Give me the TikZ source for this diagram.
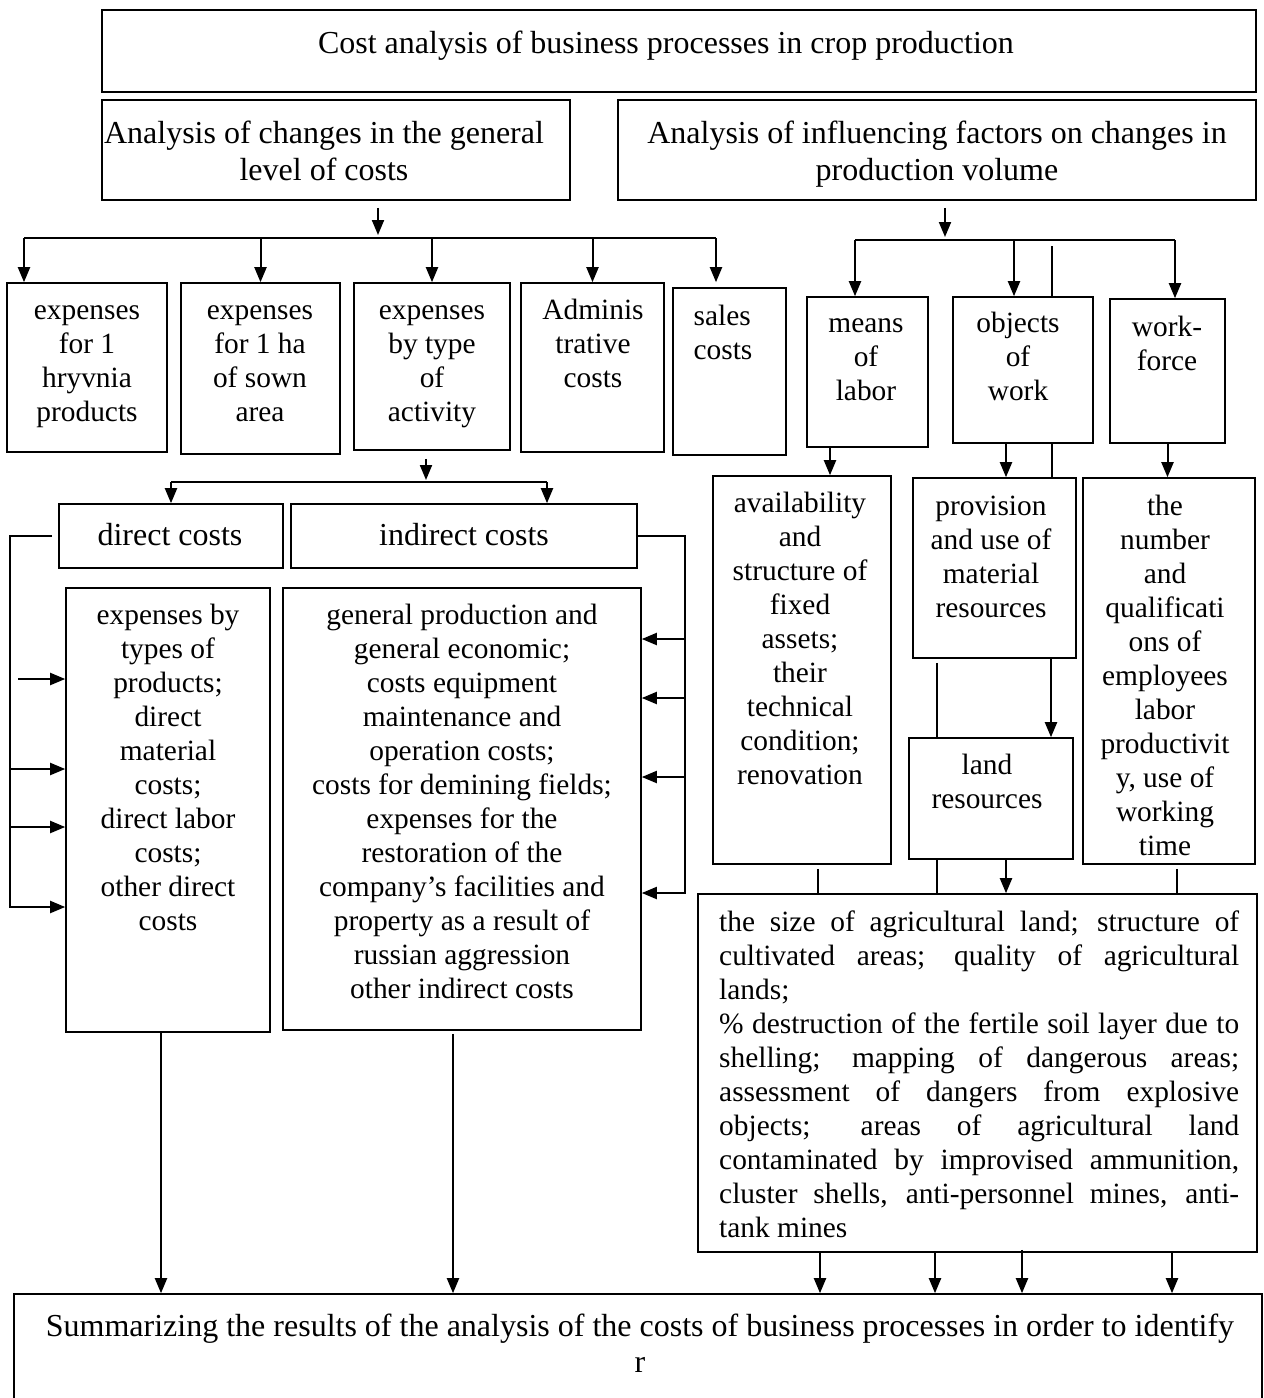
\documentclass[tikz,border=0pt]{standalone}
\usepackage{fontspec}
\setmainfont{Liberation Serif}
\usetikzlibrary{arrows.meta}
% framed box given by its corners: name, x1, y1, x2, y2
\newcommand\boxnode[5]{%
  \pgfmathsetmacro\bxw{#4-#2}%
  \pgfmathsetmacro\bxh{#5-#3}%
  \node[frame, minimum width=\bxw pt, minimum height=\bxh pt] (#1) at ({(#2+#4)/2},{(#3+#5)/2}) {};}
\begin{document}
\begin{tikzpicture}[x=1pt, y=-1pt,
  frame/.style={draw, line width=1.6pt, inner sep=0pt},
  boxtext/.style={inner sep=0pt, align=center, anchor=north, font=\fontsize{29.4}{34}\selectfont},
  headtext/.style={boxtext, font=\fontsize{32}{37}\selectfont},
  conn/.style={line width=2pt},
  arr/.style={conn, -{Triangle[length=15pt, width=12pt]}}]
\useasboundingbox (0,0) rectangle (1264,1398);

% ---------- boxes ----------
\boxnode{t0}{102}{10}{1256}{92}
\boxnode{L1}{102}{100}{570}{200}
\boxnode{R1}{618}{100}{1256}{200}
\boxnode{b1}{7}{283}{167}{452}
\boxnode{b2}{181}{283}{340}{454}
\boxnode{b3}{354}{283}{510}{450}
\boxnode{b4}{521}{283}{664}{452}
\boxnode{b5}{673}{288}{786}{455}
\boxnode{m1}{807}{297}{928}{447}
\boxnode{m2}{953}{297}{1093}{443}
\boxnode{m3}{1110}{299}{1225}{443}
\boxnode{dc}{59}{504}{283}{568}
\boxnode{ic}{291}{504}{637}{568}
\boxnode{de}{66}{588}{270}{1032}
\boxnode{ie}{283}{588}{641}{1030}
\boxnode{av}{713}{476}{891}{864}
\boxnode{pr}{913}{478}{1076}{658}
\boxnode{nu}{1083}{478}{1255}{864}
\boxnode{lr}{909}{738}{1073}{859}
\boxnode{bg}{698}{894}{1257}{1252}
\boxnode{bt}{14}{1294}{1262}{1440}

% ---------- texts ----------
\node[headtext] (x-t0) at (666,27) {\strut Cost analysis of business processes in crop production};
\node[headtext] (x-L1) at (324,117) {\strut Analysis of changes in the general\\level of costs};
\node[headtext] (x-R1) at (937,117) {\strut Analysis of influencing factors on changes in\\production volume};
\node[boxtext] (x-b1) at (87,295) {\strut expenses\\for 1\\hryvnia\\products};
\node[boxtext] (x-b2) at (260,295) {\strut expenses\\for 1 ha\\of sown\\area};
\node[boxtext] (x-b3) at (432,295) {\strut expenses\\by type\\of\\activity};
\node[boxtext] (x-b4) at (593,295) {\strut Adminis\\trative\\costs};
\node[boxtext, align=left] (x-b5) at (723,301) {\strut sales\\costs};
\node[boxtext] (x-m1) at (866,308) {\strut means\\of\\labor};
\node[boxtext] (x-m2) at (1018,308) {\strut objects\\of\\work};
\node[boxtext] (x-m3) at (1167,312) {\strut work-\\force};
\node[headtext] (x-dc) at (170,519) {\strut direct costs};
\node[headtext] (x-ic) at (464,519) {\strut indirect costs};
\node[boxtext] (x-de) at (168,600) {\strut expenses by\\types of\\products;\\direct\\material\\costs;\\direct labor\\costs;\\other direct\\costs};
\node[boxtext] (x-ie) at (462,600) {\strut general production and\\general economic;\\costs equipment\\maintenance and\\operation costs;\\costs for demining fields;\\expenses for the\\restoration of the\\company's facilities and\\property as a result of\\russian aggression\\other indirect costs};
\node[boxtext] (x-av) at (800,488) {\strut availability\\and\\structure of\\fixed\\assets;\\their\\technical\\condition;\\renovation};
\node[boxtext] (x-pr) at (991,491) {\strut provision\\and use of\\material\\resources};
\node[boxtext] (x-nu) at (1165,491) {\strut the\\number\\and\\qualificati\\ons of\\employees\\labor\\productivit\\y, use of\\working\\time};
\node[boxtext] (x-lr) at (987,750) {\strut land\\resources};
\node[boxtext, anchor=north west, align=justify, text width=520pt] (x-bg) at (719,907)
  {\noindent\spaceskip=0.25em plus 1em minus 0.12em\strut the size of agricultural land; structure of\linebreak cultivated areas; quality of agricultural\linebreak lands;\\
   \% destruction of the fertile soil layer due to\linebreak shelling; mapping of dangerous areas;\linebreak assessment of dangers from explosive\linebreak objects; areas of agricultural land\linebreak contaminated by improvised ammunition,\linebreak cluster shells, anti-personnel mines, anti-\linebreak tank mines};
\node[headtext, font=\fontsize{32}{36}\selectfont] (x-bt) at (640,1311) {\strut Summarizing the results of the analysis of the costs of business processes in order to identify\\r};

% ---------- connectors: cost level branch ----------
\coordinate (busAL) at (24,238);
\coordinate (busAR) at (716,238);
\draw[arr] ([xshift=42pt,yshift=-7pt]L1.south) -- ([xshift=42pt,yshift=3pt]L1.south |- busAL);
\draw[conn] (busAL) -- (busAR);
\draw[arr] (busAL) -- (busAL |- b1.north);
\draw[arr] (b2.north |- busAL) -- (b2.north);
\draw[arr] (b3.north |- busAL) -- (b3.north);
\draw[arr] (b4.north |- busAL) -- (b4.north);
\draw[arr] (busAR) -- ([yshift=5pt]busAR |- b5.north);

\coordinate (busBL) at (171,482);
\coordinate (busBR) at (547,482);
\draw[arr] ([xshift=-6pt,yshift=-8pt]b3.south) -- ([xshift=-6pt,yshift=2pt]b3.south |- busBL);
\draw[conn] (busBL) -- (busBR);
\draw[arr] (busBL) -- (busBL |- dc.north);
\draw[arr] (busBR) -- (busBR |- ic.north);

% direct and indirect cost brackets
\coordinate (lbx) at (10,906);
\draw[conn] ([xshift=-6pt]dc.west) -| (lbx);
\draw[arr] ([xshift=-47pt,yshift=131pt]de.west) -- ([yshift=131pt]de.west);
\draw[arr] ([xshift=-56pt,yshift=41pt]de.west) -- ([yshift=41pt]de.west);
\draw[arr] ([xshift=-56pt,yshift=-17pt]de.west) -- ([yshift=-17pt]de.west);
\draw[arr] ([xshift=-56pt,yshift=-97pt]de.west) -- ([yshift=-97pt]de.west);

\coordinate (rbx) at (685,893);
\draw[conn] ([xshift=-2pt]ic.east) -| (rbx);
\draw[arr] ([xshift=44pt,yshift=170pt]ie.east) -- ([yshift=170pt]ie.east);
\draw[arr] ([xshift=44pt,yshift=111pt]ie.east) -- ([yshift=111pt]ie.east);
\draw[arr] ([xshift=44pt,yshift=32pt]ie.east) -- ([yshift=32pt]ie.east);
\draw[arr] ([xshift=44pt,yshift=-84pt]ie.east) -- ([yshift=-84pt]ie.east);

% ---------- connectors: production volume branch ----------
\coordinate (busCL) at (855,240);
\coordinate (busCR) at (1175,240);
\draw[arr] ([xshift=8pt,yshift=-7pt]R1.south) -- ([xshift=8pt,yshift=3pt]R1.south |- busCL);
\draw[conn] (busCL) -- (busCR);
\draw[arr] (busCL) -- (busCL |- m1.north);
\draw[arr] ([xshift=-9pt]m2.north |- busCL) -- ([xshift=-9pt]m2.north);
\draw[conn] ([xshift=29pt,yshift=-6pt]m2.north |- busCL) -- ([xshift=29pt]m2.north);
\draw[arr] (busCR) -- (busCR |- m3.north);

\draw[arr] ([xshift=-37.5pt]m1.south) -- ([xshift=-37.5pt]m1.south |- av.north);
\draw[arr] ([xshift=-17pt]m2.south) -- ([xshift=-17pt]m2.south |- pr.north);
\draw[conn] ([xshift=29pt]m2.south) -- ([xshift=29pt]m2.south |- pr.north);
\draw[arr] (m3.south) -- (m3.south |- nu.north);

\draw[arr] ([xshift=56.5pt]pr.south) -- ([xshift=56.5pt]pr.south |- lr.north);
\draw[conn] ([xshift=-57.5pt,yshift=-4pt]pr.south) -- ([xshift=-57.5pt]pr.south |- lr.north);

\draw[conn] ([xshift=16pt,yshift=-4pt]av.south) -- ([xshift=16pt]av.south |- bg.north);
\draw[conn] ([xshift=-54pt]lr.south) -- ([xshift=-54pt]lr.south |- bg.north);
\draw[arr] ([xshift=15pt]lr.south) -- ([xshift=15pt]lr.south |- bg.north);
\draw[conn] ([xshift=8pt,yshift=-4pt]nu.south) -- ([xshift=8pt]nu.south |- bg.north);

% ---------- connectors into the summary ----------
\draw[arr] ([xshift=-7pt]de.south) -- ([xshift=-7pt]de.south |- bt.north);
\draw[arr] ([xshift=-9pt,yshift=-3pt]ie.south) -- ([xshift=-9pt]ie.south |- bt.north);
\draw[arr] ([xshift=-157.5pt]bg.south) -- ([xshift=-157.5pt]bg.south |- bt.north);
\draw[arr] ([xshift=-42.5pt]bg.south) -- ([xshift=-42.5pt]bg.south |- bt.north);
\draw[arr] ([xshift=44.5pt,yshift=3pt]bg.south) -- ([xshift=44.5pt]bg.south |- bt.north);
\draw[arr] ([xshift=194.5pt]bg.south) -- ([xshift=194.5pt]bg.south |- bt.north);
\end{tikzpicture}
\end{document}
